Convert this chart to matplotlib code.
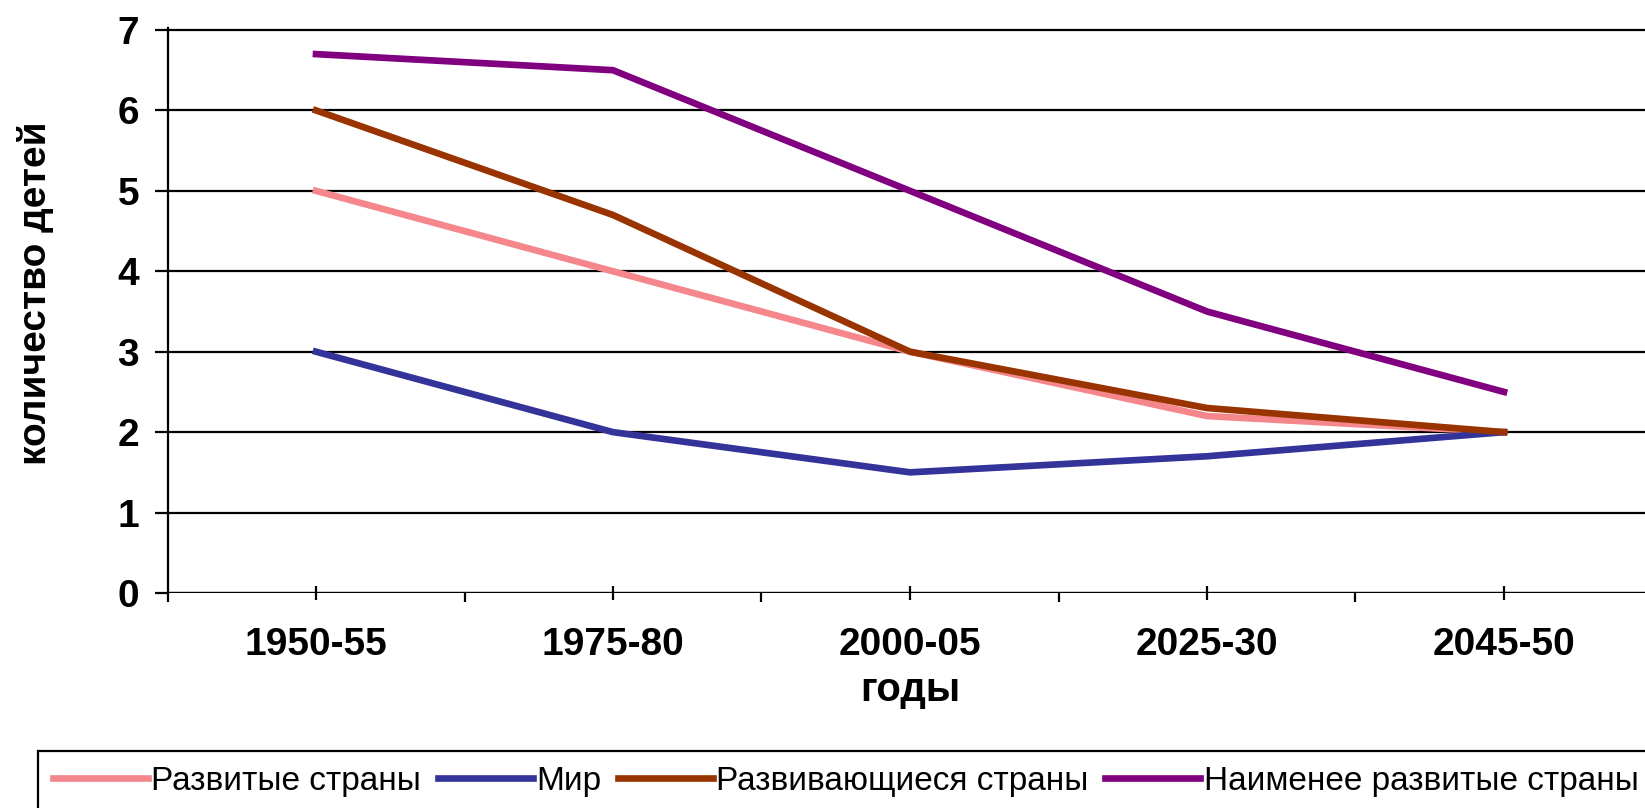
import matplotlib
matplotlib.use('Agg')
import matplotlib.pyplot as plt
from matplotlib.ticker import FixedLocator

plt.rcParams['font.family'] = ['Liberation Sans', 'DejaVu Sans']

# === Data ===
PERIODS = ['1950-55', '1975-80', '2000-05', '2025-30', '2045-50']
DEVELOPED = [5.0, 4.0, 3.0, 2.2, 2.0]
WORLD = [3.0, 2.0, 1.5, 1.7, 2.0]
DEVELOPING = [6.0, 4.7, 3.0, 2.3, 2.0]
LEAST_DEVELOPED = [6.7, 6.5, 5.0, 3.5, 2.5]

SERIES = [
    ('Развитые страны', DEVELOPED, '#F4868C'),
    ('Мир', WORLD, '#333399'),
    ('Развивающиеся страны', DEVELOPING, '#993300'),
    ('Наименее развитые страны', LEAST_DEVELOPED, '#800080'),
]

W, H = 1645, 808
fig = plt.figure(figsize=(W / 100, H / 100), dpi=100)

# plot area in pixels: y axis at x=167, category step 297, y=0 at 593, 80.4 px per unit
x0, x1 = 167.5, 167.5 + 297 * 5
y_bot = 593
ytop_val = 7.03
px_per_unit = 80.43
ax = fig.add_axes([x0 / W, 1 - y_bot / H, (x1 - x0) / W, ytop_val * px_per_unit / H])

xs = list(range(len(PERIODS)))
for name, vals, color in SERIES:
    ax.plot(xs, vals, color=color, linewidth=4.8, label=name, solid_joinstyle='round')

ax.set_xlim(-0.5, len(PERIODS) - 0.5)
ax.set_ylim(0, ytop_val)
ax.set_yticks(range(0, 8))
ax.set_xticks(xs)
ax.set_xticklabels(PERIODS)
ax.xaxis.set_minor_locator(FixedLocator([i - 0.5 for i in range(len(PERIODS) + 1)]))

ax.yaxis.grid(True, color='black', linewidth=1.6)
ax.set_axisbelow(True)
for side in ['top', 'right', 'bottom']:
    ax.spines[side].set_visible(False)
ax.spines['left'].set_linewidth(1.6)
ax.axhline(0, color='black', linewidth=1.6, zorder=1)

ax.tick_params(axis='y', which='major', direction='out', length=9.5, width=1.6,
               pad=11, labelsize=28)
ax.tick_params(axis='x', which='major', direction='inout', length=9.5, width=1.6,
               pad=19.5, labelsize=28)
ax.tick_params(axis='x', which='minor', direction='out', length=6.5, width=1.6)
for lbl in ax.get_xticklabels() + ax.get_yticklabels():
    lbl.set_fontweight('bold')

ax.set_xlabel('годы', fontsize=29, fontweight='bold')
ax.xaxis.set_label_coords(0.5, (y_bot - 690) / (ytop_val * px_per_unit))
ax.xaxis.label.set_va('center')

ax.set_ylabel('количество детей', fontsize=28, fontweight='bold')
ax.yaxis.set_label_coords((35 - x0) / (x1 - x0), (y_bot - 293) / (ytop_val * px_per_unit))
ax.yaxis.label.set_va('center')

leg = fig.legend(loc='upper left', bbox_to_anchor=(38 / W, 1 - 751 / H), ncol=4,
                 fontsize=24, handlelength=2.85, handletextpad=0.1, columnspacing=0.5,
                 borderpad=0.45, borderaxespad=0, fancybox=False, framealpha=1)
leg.get_frame().set_edgecolor('black')
leg.get_frame().set_linewidth(1.6)

fig.savefig('out.png', dpi=100)
